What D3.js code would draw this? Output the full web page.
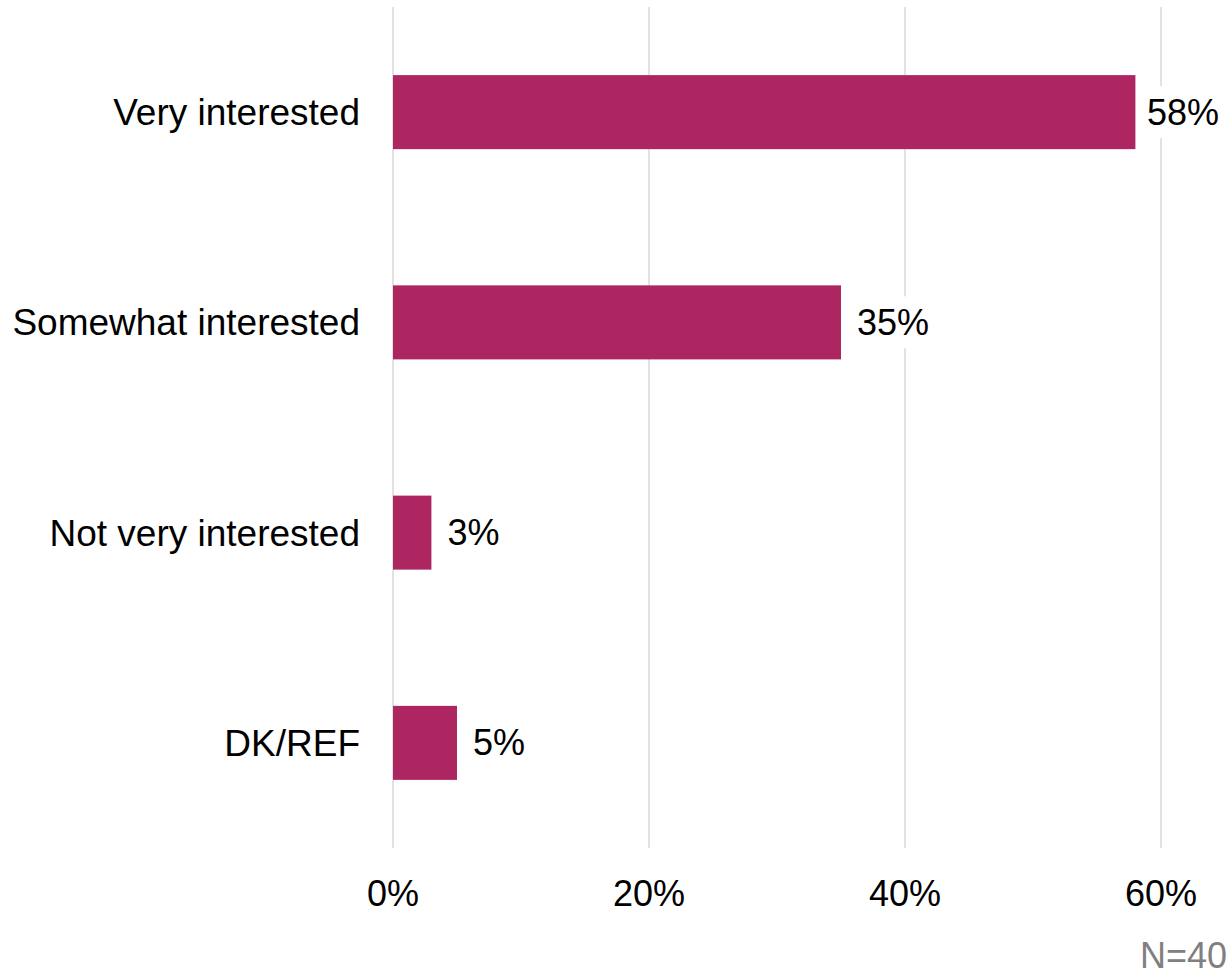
<!DOCTYPE html>
<html>
<head>
<meta charset="utf-8">
<script src="https://cdn.jsdelivr.net/npm/d3@7"></script>
<style>
  html, body { margin: 0; padding: 0; background: #fff; }
  svg { display: block; font-family: "Liberation Sans", Arial, sans-serif; }
</style>
</head>
<body>
<script>
// Survey responses: level of interest
const categories = ["Very interested", "Somewhat interested", "Not very interested", "DK/REF"];
const values = [58, 35, 3, 5];
const tickValues = [0, 20, 40, 60];
const note = "N=40";

const W = 1228, H = 977;
const barColor = "#ad2561";
const gridColor = "#d9d9d9";

const svg = d3.select("body").append("svg")
  .attr("width", W).attr("height", H);

const x = d3.scaleLinear().domain([0, 60]).range([393, 1161]);
const y = d3.scaleBand().domain(categories).range([7, 848])
  .paddingInner(0.648).paddingOuter(0.324);

// vertical gridlines
svg.append("g").selectAll("line").data(tickValues).join("line")
  .attr("x1", d => x(d)).attr("x2", d => x(d))
  .attr("y1", 7).attr("y2", 848)
  .attr("stroke", gridColor).attr("stroke-width", 1.5);

// x-axis tick labels
svg.append("g").selectAll("text").data(tickValues).join("text")
  .attr("x", d => x(d)).attr("y", 906)
  .attr("text-anchor", "middle")
  .attr("font-size", 36).attr("fill", "#000")
  .text(d => d + "%");

const rows = categories.map((c, i) => ({ c, v: values[i] }));

// bars
svg.append("g").selectAll("rect").data(rows).join("rect")
  .attr("x", x(0))
  .attr("y", d => y(d.c))
  .attr("width", d => x(d.v) - x(0))
  .attr("height", y.bandwidth())
  .attr("fill", barColor);

// category labels
svg.append("g").selectAll("text").data(rows).join("text")
  .attr("x", 360)
  .attr("y", d => y(d.c) + y.bandwidth() / 2)
  .attr("dy", "0.35em")
  .attr("text-anchor", "end")
  .attr("font-size", 37).attr("fill", "#000")
  .text(d => d.c);

// value labels with white backing, kept inside the right edge
const lab = svg.append("g").selectAll("g").data(rows).join("g");
lab.append("text")
  .attr("dy", "0.35em")
  .attr("font-size", 36).attr("fill", "#000")
  .text(d => d.v + "%");
lab.each(function (d) {
  const g = d3.select(this);
  const b = g.select("text").node().getBBox();
  const lx = Math.min(x(d.v) + 16, 1219 - b.width);
  g.attr("transform", `translate(${lx},${y(d.c) + y.bandwidth() / 2})`);
  g.insert("rect", "text")
    .attr("x", b.x - 4).attr("y", -26)
    .attr("width", b.width + 8).attr("height", 52)
    .attr("fill", "#fff");
});

// sample size note
svg.append("text")
  .attr("x", 1227).attr("y", 968)
  .attr("text-anchor", "end")
  .attr("font-size", 36).attr("fill", "#808080")
  .text(note);
</script>
</body>
</html>
